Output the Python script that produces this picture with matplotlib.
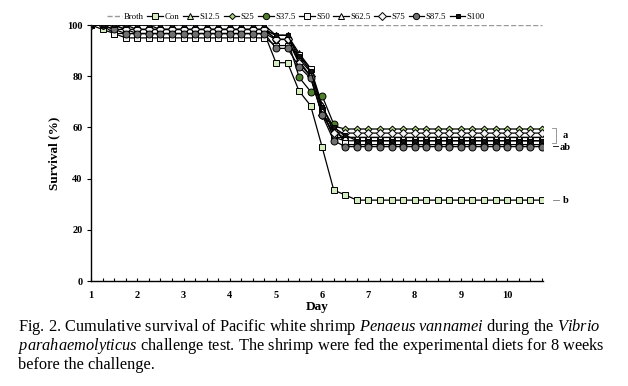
import matplotlib
matplotlib.use("Agg")
import matplotlib.pyplot as plt
import numpy as np

plt.rcParams['mathtext.fontset'] = 'custom'
plt.rcParams['mathtext.rm'] = 'Liberation Serif'
plt.rcParams['mathtext.it'] = 'Liberation Serif:italic'

days = [1.0, 1.25, 1.5, 1.75, 2.0, 2.25, 2.5, 2.75, 3.0, 3.25, 3.5, 3.75, 4.0, 4.25, 4.5, 4.75,
        5.0, 5.25, 5.5, 5.75, 6.0, 6.25, 6.5, 6.75, 7.0, 7.25, 7.5, 7.75, 8.0, 8.25, 8.5, 8.75,
        9.0, 9.25, 9.5, 9.75, 10.0, 10.25, 10.5, 10.75]

broth = [100, 100, 100, 100, 100, 100, 100, 100, 100, 100, 100, 100, 100, 100, 100, 100,
         100, 100, 100, 100, 100, 100, 100, 100, 100, 100, 100, 100, 100, 100, 100, 100,
         100, 100, 100, 100, 100, 100, 100, 100]
con = [100, 98.3, 96.7, 96.7, 96.7, 96.7, 96.7, 96.7, 96.7, 96.7, 96.7, 96.7, 96.7, 96.7, 96.7, 96.7,
       85.3, 85.3, 74.2, 68.5, 52.2, 35.5, 33.6, 31.6, 31.6, 31.6, 31.6, 31.6, 31.6, 31.6, 31.6, 31.6,
       31.6, 31.6, 31.6, 31.6, 31.6, 31.6, 31.6, 31.6]
s12_5 = [100, 100, 100, 98.3, 98.3, 98.3, 98.3, 98.3, 98.3, 98.3, 98.3, 98.3, 98.3, 98.3, 98.3, 98.3,
         96.0, 96.0, 89.0, 83.0, 68.8, 57.8, 56.1, 56.1, 56.1, 56.1, 56.1, 56.1, 56.1, 56.1, 56.1, 56.1,
         56.1, 56.1, 56.1, 56.1, 56.1, 56.1, 56.1, 56.1]
s25 = [100, 100, 98.3, 98.3, 96.7, 96.7, 96.7, 96.7, 96.7, 96.7, 96.7, 96.7, 96.7, 96.7, 96.7, 96.7,
       94.4, 94.4, 86.0, 80.0, 64.8, 60.5, 59.4, 59.4, 59.4, 59.4, 59.4, 59.4, 59.4, 59.4, 59.4, 59.4,
       59.4, 59.4, 59.4, 59.4, 59.4, 59.4, 59.4, 59.4]
s37_5 = [100, 100, 100, 100, 98.3, 98.3, 98.3, 98.3, 98.3, 98.3, 98.3, 98.3, 98.3, 98.3, 98.3, 98.3,
         94.4, 94.4, 79.6, 74.0, 72.3, 61.2, 53.3, 53.3, 53.3, 53.3, 53.3, 53.3, 53.3, 53.3, 53.3, 53.3,
         53.3, 53.3, 53.3, 53.3, 53.3, 53.3, 53.3, 53.3]
s50 = [100, 100, 96.7, 95.0, 95.0, 95.0, 95.0, 95.0, 95.0, 95.0, 95.0, 95.0, 95.0, 95.0, 95.0, 95.0,
       92.0, 92.0, 88.3, 83.0, 66.7, 56.1, 54.8, 54.8, 54.8, 54.8, 54.8, 54.8, 54.8, 54.8, 54.8, 54.8,
       54.8, 54.8, 54.8, 54.8, 54.8, 54.8, 54.8, 54.8]
s62_5 = [100, 100, 100, 100, 100, 100, 98.3, 98.3, 98.3, 98.3, 98.3, 98.3, 98.3, 98.3, 98.3, 98.3,
         96.0, 96.0, 86.7, 81.7, 66.7, 56.1, 56.1, 56.1, 56.1, 56.1, 56.1, 56.1, 56.1, 56.1, 56.1, 56.1,
         56.1, 56.1, 56.1, 56.1, 56.1, 56.1, 56.1, 56.1]
s75 = [100, 100, 100, 98.3, 98.3, 98.3, 98.3, 98.3, 98.3, 98.3, 98.3, 98.3, 98.3, 98.3, 98.3, 98.3,
       94.4, 94.4, 85.0, 80.0, 64.8, 58.0, 57.8, 57.8, 57.8, 57.8, 57.8, 57.8, 57.8, 57.8, 57.8, 57.8,
       57.8, 57.8, 57.8, 57.8, 57.8, 57.8, 57.8, 57.8]
s87_5 = [100, 100, 98.3, 96.7, 96.7, 96.7, 96.7, 96.7, 96.7, 96.7, 96.7, 96.7, 96.7, 96.7, 96.7, 96.7,
         90.9, 90.9, 83.7, 79.2, 64.8, 54.8, 52.5, 52.5, 52.5, 52.5, 52.5, 52.5, 52.5, 52.5, 52.5, 52.5,
         52.5, 52.5, 52.5, 52.5, 52.5, 52.5, 52.5, 52.5]
s100 = [100, 100, 100, 100, 100, 100, 100, 100, 100, 100, 100, 100, 100, 100, 100, 100,
        96.0, 96.0, 88.0, 82.0, 68.0, 60.0, 57.0, 54.8, 54.8, 54.8, 54.8, 54.8, 54.8, 54.8, 54.8, 54.8,
        54.8, 54.8, 54.8, 54.8, 54.8, 54.8, 54.8, 54.8]

series_names = ['Con', 'S12.5', 'S25', 'S37.5', 'S50', 'S62.5', 'S75', 'S87.5', 'S100']
series_vals = [con, s12_5, s25, s37_5, s50, s62_5, s75, s87_5, s100]
markers = ['s', '^', 'D', 'o', 's', '^', 'D', 'o', 's']
faces = ['#d4ecc0', '#cfe8b8', '#a9d37e', '#4f7f2a', '#f2f2f2', '#f2f2f2', '#f4f4f4', '#707070', '#111111']
sizes = [5, 5, 3.5, 5, 5, 5, 4, 5, 3.5]

xticks = [1, 2, 3, 4, 5, 6, 7, 8, 9, 10]
yticks = [0, 20, 40, 60, 80, 100]

serif = 'Liberation Serif'

fig = plt.figure(figsize=(6.28, 3.86), dpi=100)
ax = fig.add_axes([0.145, 0.272, 0.72, 0.663])

ax.plot(days, broth, ls='--', color='#9a9a9a', lw=1.0, label='Broth', zorder=1)
for name, vals, m, fc, ms in zip(series_names, series_vals, markers, faces, sizes):
    ax.plot(days, vals, color='black', lw=0.9, marker=m, ms=ms, mfc=fc, mec='black', mew=0.7,
            label=name, zorder=3)

ax.set_xlim(1, 10.78)
ax.set_ylim(0, 100)
ax.set_xticks(xticks)
ax.set_xticks(np.arange(1, 10.8, 0.25), minor=True)
ax.set_yticks(yticks)
for s in ['top', 'right']:
    ax.spines[s].set_visible(False)
for s in ['left', 'bottom']:
    ax.spines[s].set_linewidth(1.0)
ax.tick_params(axis='x', which='both', direction='in', length=2.5, width=0.8, pad=7)
ax.tick_params(axis='y', which='major', direction='out', length=3, width=0.8, pad=3)
for lab in ax.get_xticklabels() + ax.get_yticklabels():
    lab.set_fontfamily(serif)
    lab.set_fontweight('bold')
    lab.set_fontsize(7.5)

ax.set_xlabel('Day', fontfamily=serif, fontweight='bold', fontsize=9.5, labelpad=1)
ax.set_ylabel('Survival (%)', fontfamily=serif, fontweight='bold', fontsize=9.5, labelpad=5)

leg = ax.legend(loc='lower left', bbox_to_anchor=(0.025, 1.0), ncol=10, frameon=False,
                prop={'family': serif, 'size': 6.3}, handlelength=1.8, handletextpad=0.15,
                columnspacing=0.4, borderaxespad=0.1, markerscale=0.9)

# significance letters
kw = dict(color='black', lw=0.6, clip_on=False)
ax.plot([10.98, 11.06, 11.06, 10.98], [59.8, 59.8, 53.8, 53.8], color='#888888', lw=0.6, clip_on=False)
ax.plot([11.0, 11.1], [52.8, 52.8], **kw)
ax.plot([11.0, 11.12], [31.6, 31.6], color='#777777', lw=0.6, clip_on=False)
ax.text(11.2, 57.0, 'a', fontfamily=serif, fontweight='bold', fontsize=7.5, va='center')
ax.text(11.13, 52.3, 'ab', fontfamily=serif, fontweight='bold', fontsize=7.5, va='center')
ax.text(11.2, 31.4, 'b', fontfamily=serif, fontweight='bold', fontsize=7.5, va='center')

cap1 = r'Fig. 2. Cumulative survival of Pacific white shrimp $\mathit{Penaeus\ vannamei}$ during the $\mathit{Vibrio}$'
cap2 = r'$\mathit{parahaemolyticus}$ challenge test. The shrimp were fed the experimental diets for 8 weeks'
cap3 = 'before the challenge.'
fig.text(0.028, 1 - 327 / 386, cap1, fontfamily=serif, fontsize=11.8, va='center')
fig.text(0.028, 1 - 346 / 386, cap2, fontfamily=serif, fontsize=11.8, va='center')
fig.text(0.028, 1 - 365 / 386, cap3, fontfamily=serif, fontsize=11.8, va='center')

fig.savefig('out.png', dpi=100)
